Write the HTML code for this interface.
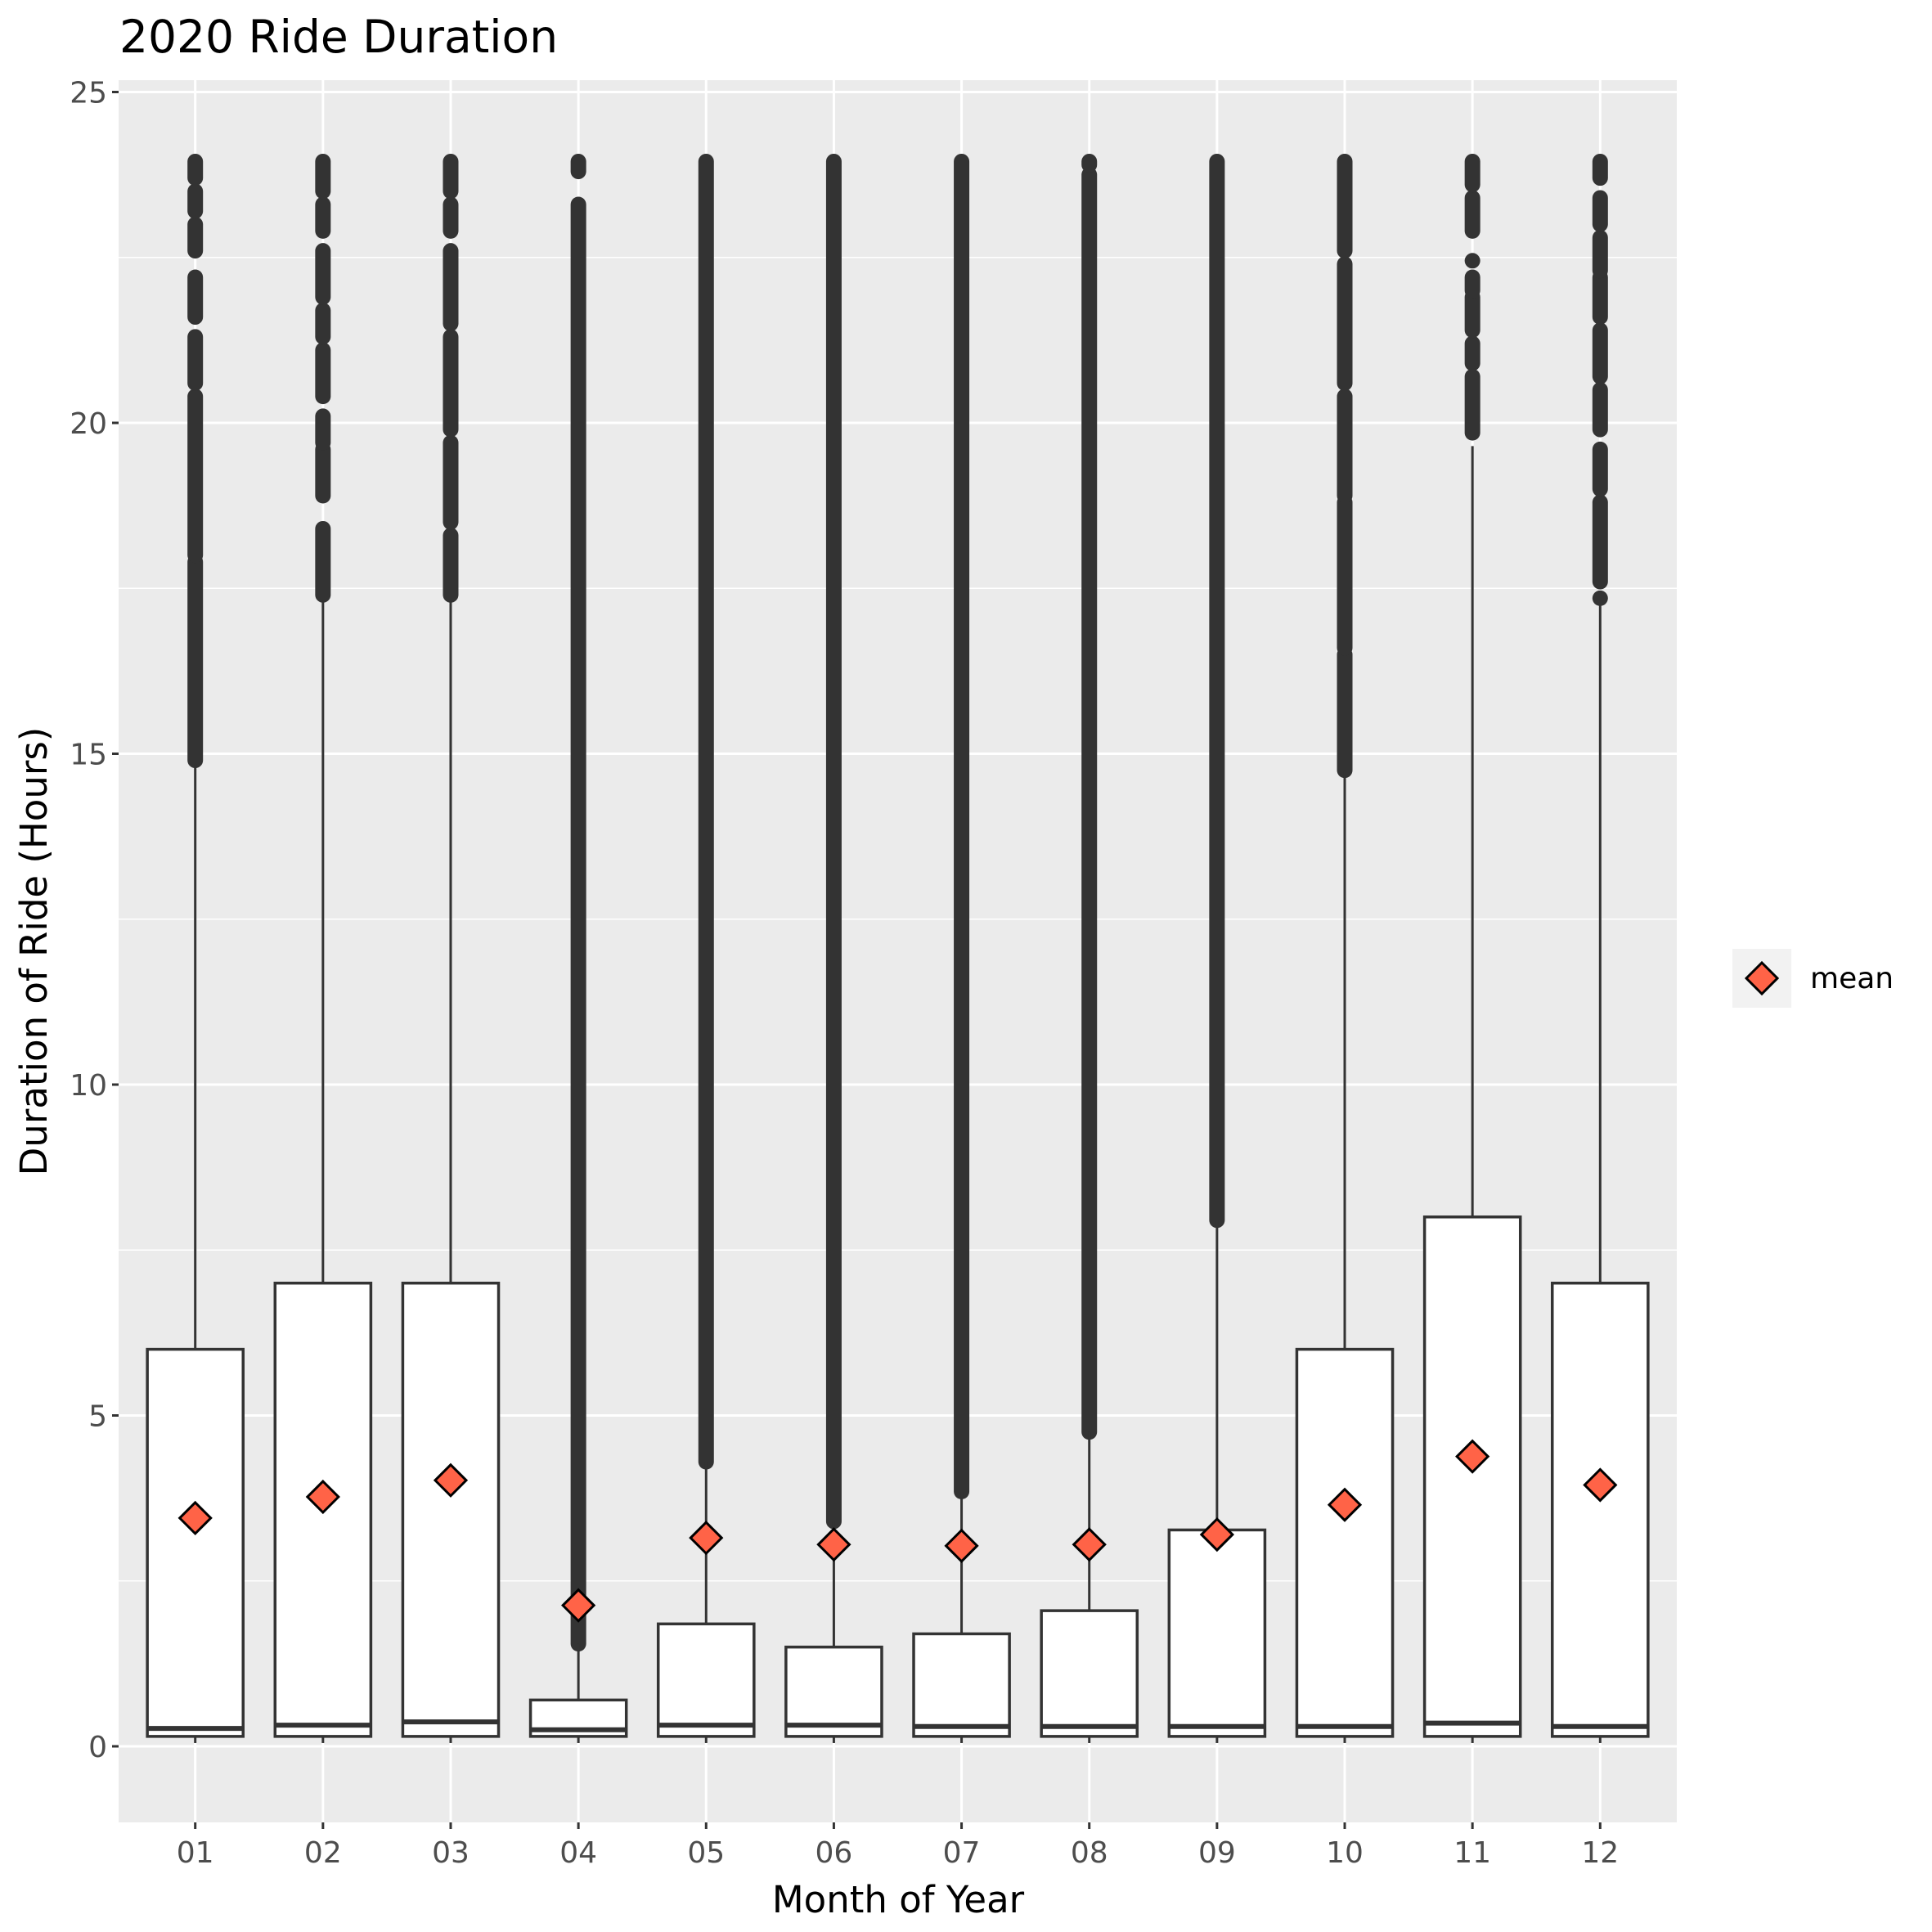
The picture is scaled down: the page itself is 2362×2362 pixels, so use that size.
<!DOCTYPE html>
<html><head><meta charset="utf-8"><style>
html,body{margin:0;padding:0;background:#fff;}
svg{display:block;font-family:"DejaVu Sans","Liberation Sans",sans-serif;}
</style></head><body>
<svg id="chart" width="2362" height="2362" viewBox="0 0 2362 2362" xmlns="http://www.w3.org/2000/svg">
<rect x="0" y="0" width="2362" height="2362" fill="#fff"/>
<text x="146" y="64" font-size="55" fill="#000">2020 Ride Duration</text>
<rect x="145" y="98" width="1905" height="2130" fill="#EBEBEB"/>
<g id="grid"></g>
<g id="marks"></g>
<g id="axes"></g>
<text x="1098" y="2338" font-size="45" text-anchor="middle" fill="#000">Month of Year</text>
<text transform="translate(57,1163) rotate(-90)" font-size="45" text-anchor="middle" fill="#000">Duration of Ride (Hours)</text>
<g>
<rect x="2118" y="1160" width="72" height="72" fill="#F2F2F2"/>
<path d="M2154 1177 L2173 1196 L2154 1215 L2135 1196 Z" fill="#FF6347" stroke="#000" stroke-width="3"/>
<text x="2213" y="1208" font-size="36" fill="#000">mean</text>
</g>
</svg>
<script>
const months = ["01","02","03","04","05","06","07","08","09","10","11","12"];
const lowerWhisker = [0.05,0.05,0.05,0.05,0.05,0.05,0.05,0.05,0.05,0.05,0.05,0.05];
const q1 = [0.15,0.15,0.15,0.15,0.15,0.15,0.15,0.15,0.15,0.15,0.15,0.15];
const medians = [0.27,0.32,0.37,0.25,0.32,0.32,0.3,0.3,0.3,0.3,0.35,0.3];
const q3 = [6,7,7,0.7,1.85,1.5,1.7,2.05,3.27,6,8,7];
const upperWhisker = [14.85,17.3,17.3,1.55,4.3,3.4,3.85,4.75,7.95,14.75,19.65,17.25];
const means = [3.45,3.77,4.02,2.13,3.15,3.05,3.03,3.05,3.2,3.65,4.38,3.95];
const outlierBands = [
 [[14.9,17.9],[18.0,20.4],[20.6,21.3],[21.6,22.2],[22.6,23.0],[23.2,23.5],[23.7,23.95]],
 [[17.4,18.4],[18.9,19.6],[19.7,20.1],[20.4,21.1],[21.3,21.7],[21.9,22.6],[22.9,23.3],[23.5,23.95]],
 [[17.4,18.3],[18.5,19.7],[19.9,21.3],[21.5,22.6],[22.9,23.3],[23.5,23.95]],
 [[1.55,23.3],[23.8,23.95]],
 [[4.3,23.95]],
 [[3.4,23.95]],
 [[3.85,23.95]],
 [[4.75,23.75],[23.9,23.95]],
 [[7.95,23.95]],
 [[14.75,16.5],[16.6,18.8],[18.9,20.4],[20.6,22.4],[22.6,23.95]],
 [[19.85,20.7],[20.9,21.2],[21.4,21.9],[22.0,22.2],[22.45,22.45],[22.9,23.4],[23.6,23.95]],
 [[17.35,17.35],[17.6,18.8],[19.0,19.6],[19.9,20.5],[20.7,21.4],[21.6,22.2],[22.3,22.8],[23.0,23.4],[23.7,23.95]]
];
const yTicks = [0,5,10,15,20,25];
const yMinor = [2.5,7.5,12.5,17.5,22.5];

const NS="http://www.w3.org/2000/svg";
const PL=145, PR=2050, PT=98, PB=2228;
const Y0=2135, YU=80.9;
function y(v){return Y0 - v*YU;}
const step=(PR-PL)/(months.length-1+1.2);
function x(i){return PL + (0.6+i)*step;}
function mk(tag,attrs,parent){const e=document.createElementNS(NS,tag);for(const k in attrs)e.setAttribute(k,attrs[k]);parent.appendChild(e);return e;}
const grid=document.getElementById('grid'), marks=document.getElementById('marks'), axes=document.getElementById('axes');

yMinor.forEach(v=>{
 const l=mk('line',{x1:PL,x2:PR,y1:y(v),y2:y(v),stroke:'#fff','stroke-width':1.5},grid);
 
 
});
yTicks.forEach(v=>{
 const l=mk('line',{x1:PL,x2:PR,y1:y(v),y2:y(v),stroke:'#fff','stroke-width':3},grid);
 
 
 const t=mk('line',{x1:PL-8,x2:PL,y1:y(v),y2:y(v),stroke:'#333','stroke-width':3},axes);
 
 
 const tx=mk('text',{x:PL-14,y:y(v)+13,'font-size':36,'text-anchor':'end',fill:'#4D4D4D'},axes);
 tx.textContent=String(v);
 
 
});
months.forEach((m,i)=>{
 const cx=x(i);
 const g=mk('line',{x1:cx,x2:cx,y1:PT,y2:PB,stroke:'#fff','stroke-width':3},grid);
 
 
 const t=mk('line',{x1:cx,x2:cx,y1:PB,y2:PB+8,stroke:'#333','stroke-width':3},axes);
 
 
 const tx=mk('text',{x:cx,y:2277,'font-size':36,'text-anchor':'middle',fill:'#4D4D4D'},axes);
 tx.textContent=m;
 
 

 const grp=mk('g',{},marks);
 
 
 outlierBands[i].forEach(b=>{
  const o=mk('line',{x1:cx,x2:cx,y1:y(b[0]),y2:y(b[1]),stroke:'#333','stroke-width':19,'stroke-linecap':'round'},grp);
  
  
 });
 const w1=mk('line',{x1:cx,x2:cx,y1:y(q3[i]),y2:y(upperWhisker[i]),stroke:'#333','stroke-width':3},grp);
 
 
 const w2=mk('line',{x1:cx,x2:cx,y1:y(q1[i]),y2:y(lowerWhisker[i]),stroke:'#333','stroke-width':3},grp);
 
 
 const bw=0.75*step;
 const r=mk('rect',{x:cx-bw/2,y:y(q3[i]),width:bw,height:y(q1[i])-y(q3[i]),fill:'#fff',stroke:'#333','stroke-width':3.5},grp);
 
 
 const md=mk('line',{x1:cx-bw/2,x2:cx+bw/2,y1:y(medians[i]),y2:y(medians[i]),stroke:'#333','stroke-width':6},grp);
 
 
 const my=y(means[i]), h=19;
 const d=mk('path',{d:`M${cx} ${my-h} L${cx+h} ${my} L${cx} ${my+h} L${cx-h} ${my} Z`,fill:'#FF6347',stroke:'#000','stroke-width':3},grp);
 
 
});
</script>
</body></html>
